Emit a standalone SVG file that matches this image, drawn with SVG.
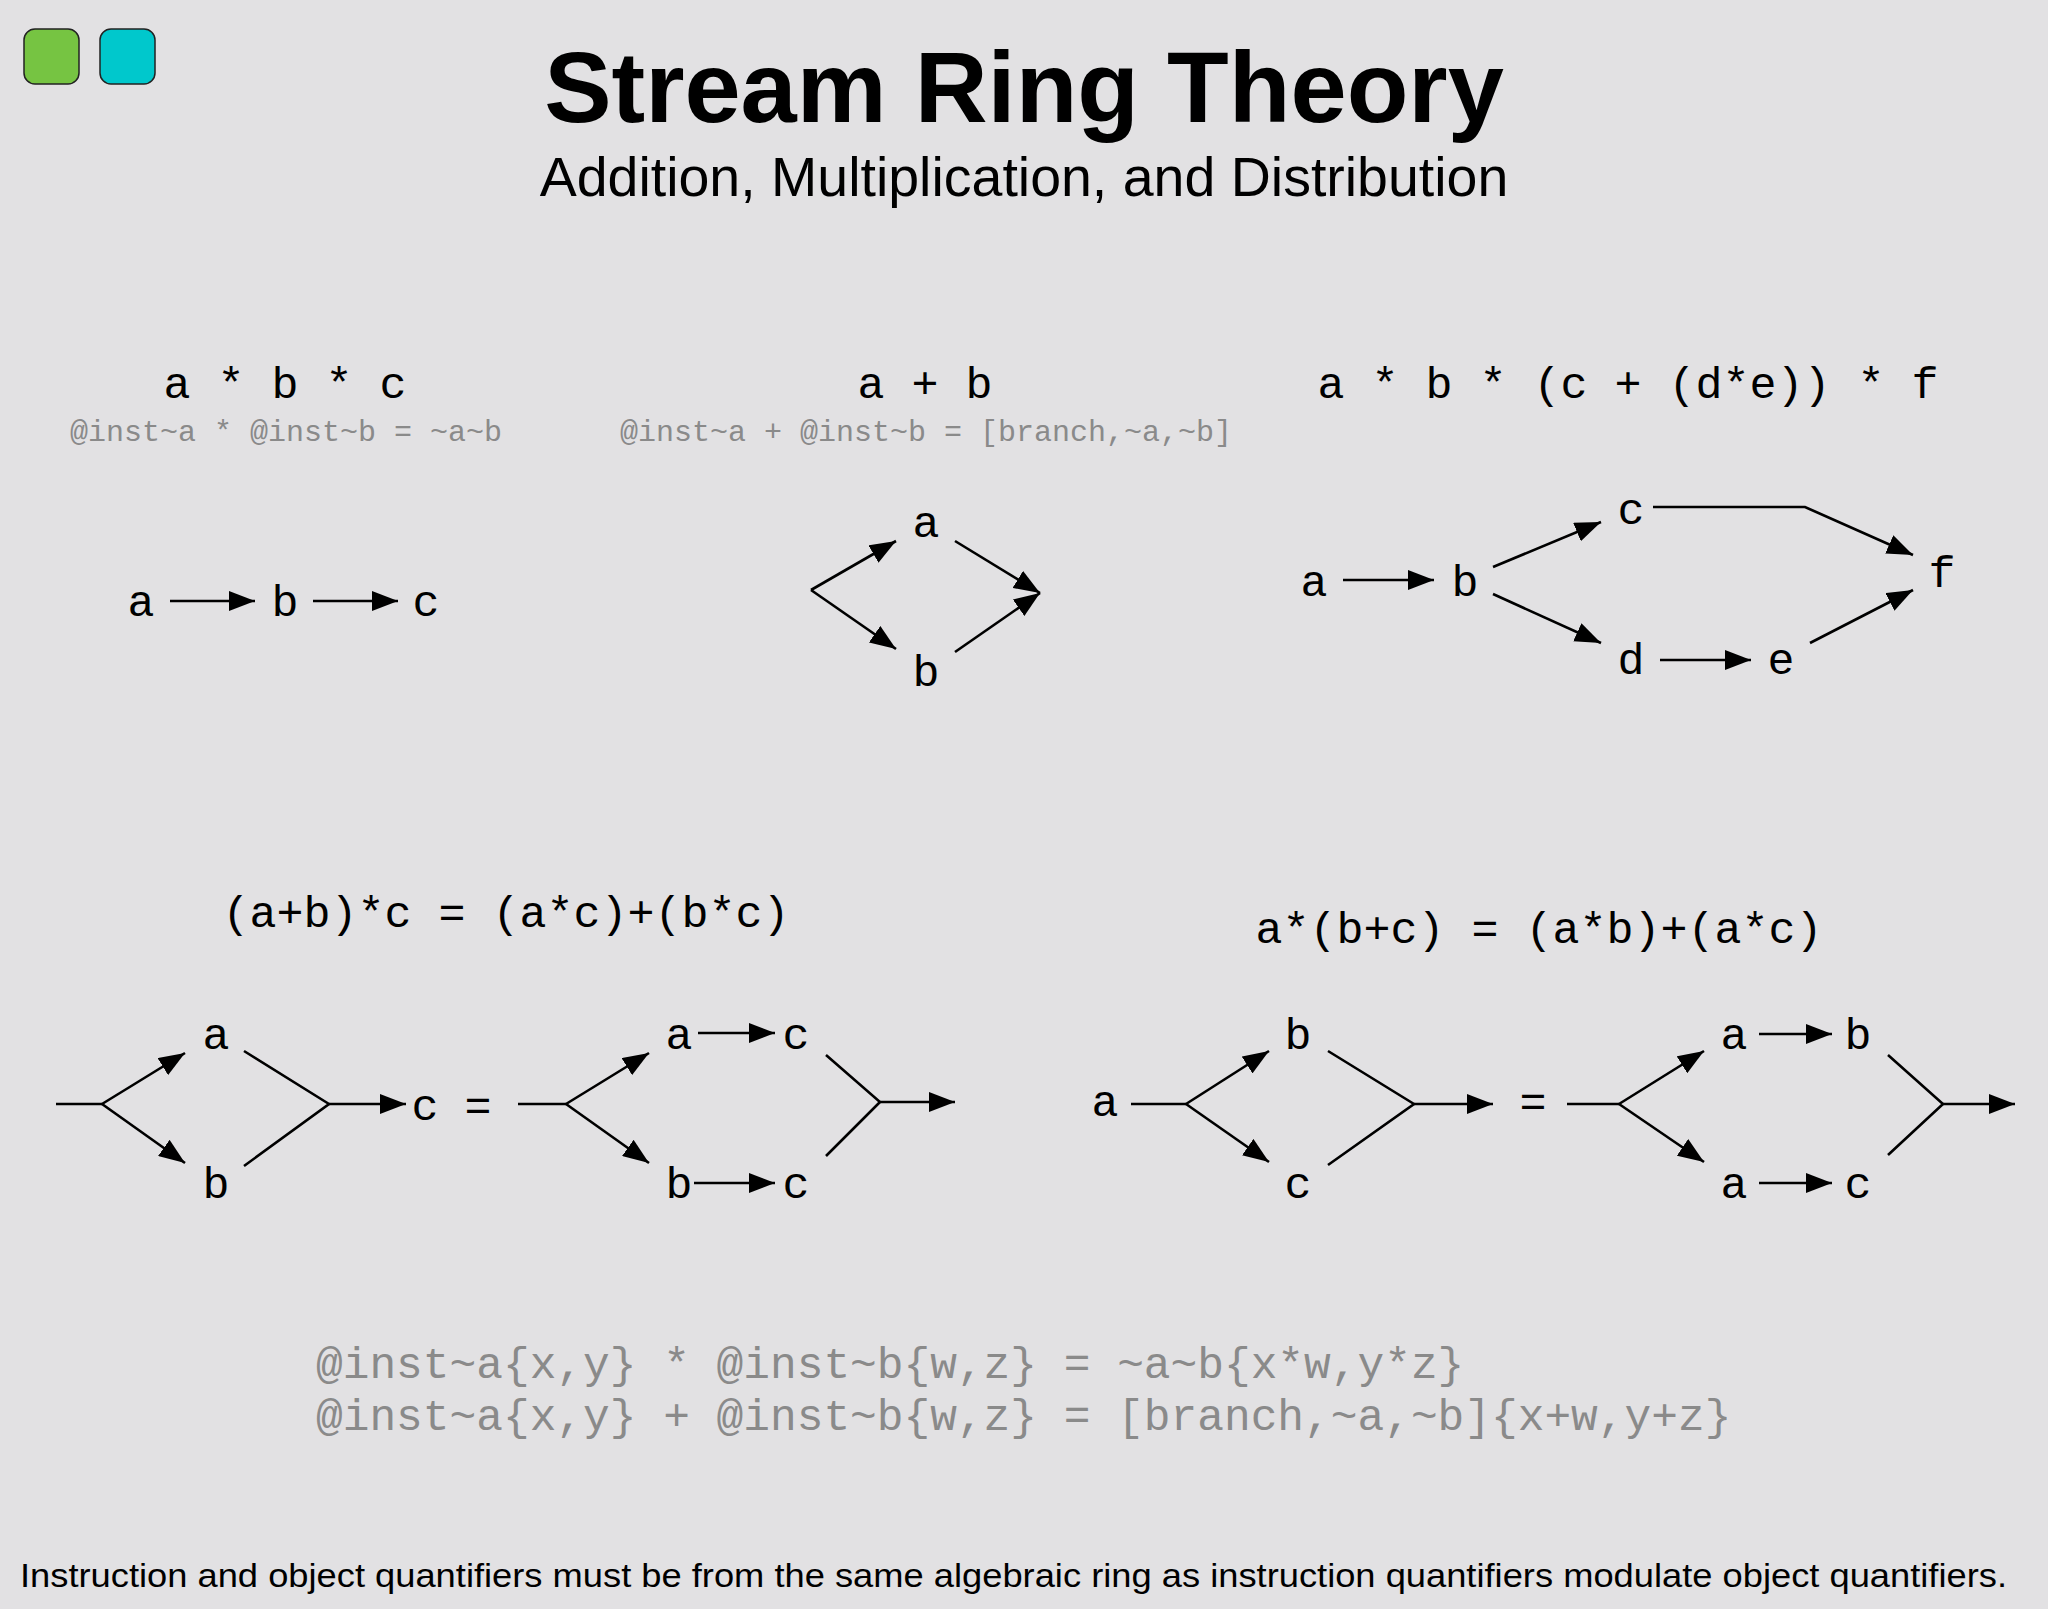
<svg xmlns="http://www.w3.org/2000/svg" width="2048" height="1609" viewBox="0 0 2048 1609">
<defs>
<marker id="ah" markerUnits="userSpaceOnUse" markerWidth="26" markerHeight="20" viewBox="0 0 26 20" refX="26" refY="10" orient="auto"><path d="M0,0 L26,10 L0,20 Z" fill="#000"/></marker>
<style>
.m{font-family:"Liberation Mono","DejaVu Sans Mono",monospace;font-size:45px;fill:#000;text-anchor:middle}
.g{font-family:"Liberation Mono","DejaVu Sans Mono",monospace;font-size:30px;fill:#8a8a8a;text-anchor:middle}
.g2{font-family:"Liberation Mono","DejaVu Sans Mono",monospace;font-size:44.5px;fill:#8a8a8a}
.l{stroke:#000;stroke-width:2.6;fill:none}
.a{stroke:#000;stroke-width:2.6;fill:none;marker-end:url(#ah)}
</style>
</defs>
<rect width="2048" height="1609" fill="#e2e1e3"/>
<rect x="24" y="29" width="55" height="55" rx="11" fill="#76c442" stroke="#222" stroke-width="1.5"/>
<rect x="100" y="29" width="55" height="55" rx="11" fill="#00c8cc" stroke="#222" stroke-width="1.5"/>
<text x="1024" y="122" text-anchor="middle" font-family="Liberation Sans, Arial, sans-serif" font-weight="bold" font-size="101">Stream Ring Theory</text>
<text x="1024" y="196" text-anchor="middle" font-family="Liberation Sans, Arial, sans-serif" font-size="55.5">Addition, Multiplication, and Distribution</text>

<text class="m" x="285" y="398">a * b * c</text>
<text class="g" x="286" y="441">@inst~a * @inst~b = ~a~b</text>
<text class="m" x="925" y="398">a + b</text>
<text class="g" x="926" y="441">@inst~a + @inst~b = [branch,~a,~b]</text>
<text class="m" x="1628" y="398">a * b * (c + (d*e)) * f</text>

<g id="n1"><text class="m" x="141" y="616">a</text><text class="m" x="285" y="616">b</text><text class="m" x="426" y="616">c</text></g>
<g id="n2"><text class="m" x="926" y="537">a</text><text class="m" x="926" y="686">b</text></g>
<g id="n3"><text class="m" x="1314" y="596">a</text><text class="m" x="1465" y="596">b</text><text class="m" x="1631" y="524">c</text><text class="m" x="1631" y="674">d</text><text class="m" x="1781" y="674">e</text><text class="m" x="1942" y="587">f</text></g>

<text class="m" x="506" y="927">(a+b)*c = (a*c)+(b*c)</text>
<text class="m" x="1539" y="943">a*(b+c) = (a*b)+(a*c)</text>

<g id="n4">
<text class="m" x="216" y="1049">a</text><text class="m" x="216" y="1198">b</text><text class="m" x="425" y="1120">c</text><text class="m" x="478" y="1120">=</text>
<text class="m" x="679" y="1049">a</text><text class="m" x="796" y="1049">c</text><text class="m" x="679" y="1198">b</text><text class="m" x="796" y="1198">c</text>
</g>
<g id="n5">
<text class="m" x="1105" y="1116">a</text><text class="m" x="1298" y="1049">b</text><text class="m" x="1298" y="1198">c</text><text class="m" x="1533" y="1116">=</text>
<text class="m" x="1734" y="1049">a</text><text class="m" x="1858" y="1049">b</text><text class="m" x="1734" y="1198">a</text><text class="m" x="1858" y="1198">c</text>
</g>

<g id="connectors">
<line class="a" x1="170" y1="601" x2="255" y2="601"/>
<line class="a" x1="313" y1="601" x2="398" y2="601"/>
<line class="a" x1="811" y1="590" x2="896" y2="541"/>
<line class="a" x1="811" y1="590" x2="896" y2="649"/>
<line class="a" x1="955" y1="541" x2="1040" y2="593"/>
<line class="a" x1="955" y1="652" x2="1040" y2="593"/>
<line class="a" x1="1343" y1="580" x2="1434" y2="580"/>
<line class="a" x1="1493" y1="567" x2="1601" y2="522"/>
<line class="a" x1="1493" y1="594" x2="1601" y2="643"/>
<polyline class="a" points="1653,507 1805,507 1913,555"/>
<line class="a" x1="1660" y1="660" x2="1751" y2="660"/>
<line class="a" x1="1810" y1="643" x2="1913" y2="590"/>

<line class="l" x1="56" y1="1104" x2="102" y2="1104"/>
<line class="a" x1="102" y1="1104" x2="185" y2="1053"/>
<line class="a" x1="102" y1="1104" x2="185" y2="1163"/>
<polyline class="l" points="244,1051 329,1104 244,1166"/>
<line class="a" x1="329" y1="1104" x2="406" y2="1104"/>
<line class="l" x1="518" y1="1104" x2="566" y2="1104"/>
<line class="a" x1="566" y1="1104" x2="649" y2="1053"/>
<line class="a" x1="566" y1="1104" x2="649" y2="1163"/>
<line class="a" x1="698" y1="1033" x2="775" y2="1033"/>
<line class="a" x1="694" y1="1183" x2="775" y2="1183"/>
<polyline class="l" points="826,1055 880,1102 826,1156"/>
<line class="a" x1="880" y1="1102" x2="955" y2="1102"/>

<line class="l" x1="1131" y1="1104" x2="1186" y2="1104"/>
<line class="a" x1="1186" y1="1104" x2="1269" y2="1051"/>
<line class="a" x1="1186" y1="1104" x2="1269" y2="1162"/>
<polyline class="l" points="1328,1051 1414,1104 1328,1165"/>
<line class="a" x1="1414" y1="1104" x2="1493" y2="1104"/>
<line class="l" x1="1567" y1="1104" x2="1619" y2="1104"/>
<line class="a" x1="1619" y1="1104" x2="1704" y2="1051"/>
<line class="a" x1="1619" y1="1104" x2="1704" y2="1162"/>
<line class="a" x1="1759" y1="1034" x2="1832" y2="1034"/>
<line class="a" x1="1759" y1="1183" x2="1832" y2="1183"/>
<polyline class="l" points="1888,1055 1943,1104 1888,1155"/>
<line class="a" x1="1943" y1="1104" x2="2015" y2="1104"/>
</g>

<text class="g2" x="316" y="1378">@inst~a{x,y} * @inst~b{w,z} = ~a~b{x*w,y*z}</text>
<text class="g2" x="316" y="1430">@inst~a{x,y} + @inst~b{w,z} = [branch,~a,~b]{x+w,y+z}</text>
<text x="20" y="1587" font-family="Liberation Sans, Arial, sans-serif" font-size="34" textLength="1987" lengthAdjust="spacingAndGlyphs">Instruction and object quantifiers must be from the same algebraic ring as instruction quantifiers modulate object quantifiers.</text>
</svg>
